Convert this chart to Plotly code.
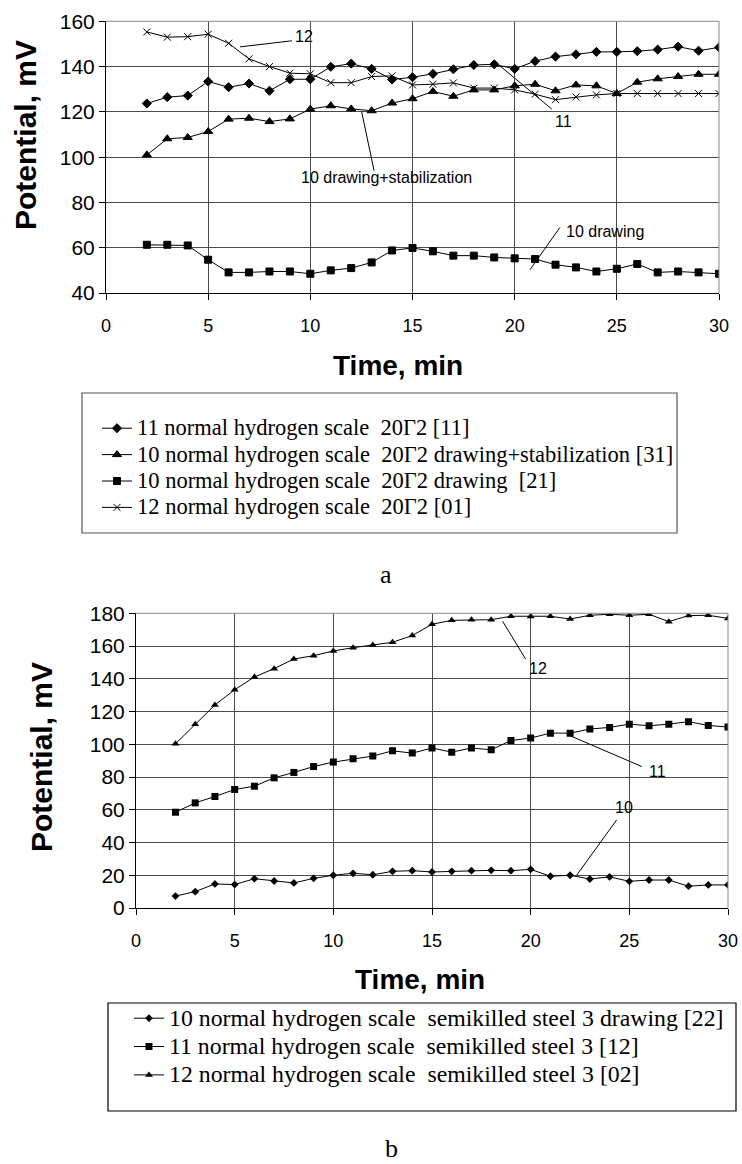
import plotly.graph_objects as go

W, H = 742, 1164

# ---------------- data ----------------
time_min = list(range(2, 31))

a_11_20g2 = [123.7, 126.5, 127.2, 133.4, 130.9, 132.5, 129.3, 134.4, 134.4, 139.9, 141.3, 139.0,
             134.3, 135.3, 136.8, 138.8, 140.7, 141.0, 139.0, 142.4, 144.4, 145.4, 146.5, 146.5,
             146.8, 147.5, 148.8, 147.0, 148.5]
a_10_draw_stab = [101.0, 108.1, 108.7, 111.3, 116.8, 117.2, 115.7, 116.9, 121.2, 122.7, 121.3, 120.5,
                  123.9, 125.8, 129.0, 126.9, 129.7, 129.7, 131.5, 132.2, 129.3, 131.9, 131.5, 128.1,
                  133.1, 134.6, 135.6, 136.6, 136.6]
a_10_draw = [61.3, 61.3, 61.0, 54.7, 49.1, 49.1, 49.5, 49.5, 48.5, 50.0, 51.0, 53.5,
             58.8, 59.9, 58.4, 56.5, 56.5, 55.7, 55.3, 55.0, 52.5, 51.3, 49.5, 50.7,
             52.8, 49.1, 49.5, 49.1, 48.5]
a_12_20g2 = [155.3, 153.0, 153.2, 154.3, 150.3, 143.4, 140.0, 137.1, 136.8, 132.9, 132.9, 135.6,
             135.9, 131.9, 132.2, 132.8, 130.5, 130.5, 129.7, 127.8, 125.4, 126.6, 127.5, 128.1,
             128.1, 128.1, 128.1, 128.1, 128.1]

b_10_st3_draw = [7.3, 10.0, 14.7, 14.3, 17.9, 16.5, 15.3, 18.1, 20.0, 21.2, 20.3,
                 22.4, 22.8, 22.0, 22.4, 22.8, 23.0, 22.8, 23.6, 19.4, 20.0, 17.7, 19.0,
                 16.3, 17.1, 17.1, 13.3, 14.1, 14.1]
b_11_st3 = [58.5, 64.2, 68.1, 72.4, 74.4, 79.5, 82.8, 86.4, 89.1, 91.1, 92.8,
            96.0, 94.6, 97.7, 95.2, 97.7, 96.6, 102.3, 103.8, 106.8, 106.8, 109.3, 110.3,
            112.3, 111.3, 112.3, 113.8, 111.5, 110.5]
b_12_st3 = [100.3, 112.3, 124.0, 133.3, 141.1, 146.2, 152.1, 154.1, 157.0, 159.0, 160.7,
            162.3, 166.4, 173.3, 175.7, 176.1, 176.1, 178.2, 178.0, 178.2, 176.5, 178.8, 179.4,
            178.8, 179.4, 174.9, 178.6, 178.8, 176.9]

names_a = ["11 normal hydrogen scale\u00a0 20\u03932 [11]",
           "10 normal hydrogen scale\u00a0 20\u03932 drawing+stabilization [31]",
           "10 normal hydrogen scale\u00a0 20\u03932 drawing\u00a0 [21]",
           "12 normal hydrogen scale\u00a0 20\u03932 [01]"]
names_b = ["10 normal hydrogen scale\u00a0 semikilled steel 3 drawing [22]",
           "11 normal hydrogen scale\u00a0 semikilled steel 3 [12]",
           "12 normal hydrogen scale\u00a0 semikilled steel 3 [02]"]

x_ticks = [0, 5, 10, 15, 20, 25, 30]
ya_ticks = [40, 60, 80, 100, 120, 140, 160]
yb_ticks = [0, 20, 40, 60, 80, 100, 120, 140, 160, 180]

# ---------------- helpers ----------------
def px(x):
    return x / W

def py(y):
    return 1 - y / H

SANS = "Liberation Sans, Arial, sans-serif"
SERIF = "Liberation Serif, Times New Roman, serif"

fig = go.Figure()

series_a = [(a_11_20g2, "diamond", 7), (a_10_draw_stab, "triangle-up", 8),
            (a_10_draw, "square", 7), (a_12_20g2, "x-thin", 7)]
for (vals, sym, sz), nm in zip(series_a, names_a):
    fig.add_trace(go.Scatter(
        x=time_min, y=vals, mode="lines+markers",
        name='<span style="font-size:22.5px">%s</span>' % nm,
        line=dict(color="black", width=1),
        marker=dict(symbol=sym, size=sz, color="black", line=dict(color="black", width=1)),
        xaxis="x", yaxis="y", legend="legend"))

series_b = [(b_10_st3_draw, "diamond", 6), (b_11_st3, "square", 7), (b_12_st3, "triangle-up", 7)]
for (vals, sym, sz), nm in zip(series_b, names_b):
    fig.add_trace(go.Scatter(
        x=time_min, y=vals, mode="lines+markers",
        name='<span style="font-size:23.8px">%s</span>' % nm,
        line=dict(color="black", width=1),
        marker=dict(symbol=sym, size=sz, color="black"),
        xaxis="x2", yaxis="y2", legend="legend2"))

axis_common = dict(showline=True, linecolor="black", linewidth=1, ticks="outside", ticklen=6,
                   tickcolor="black", showgrid=True, gridcolor="#4a4a4a", gridwidth=1,
                   zeroline=False, automargin=False)
xtick_font = dict(family=SANS, size=18, color="black")
ytick_font = dict(family=SANS, size=21, color="black")

fig.update_layout(
    width=W, height=H, margin=dict(l=0, r=0, t=0, b=0, autoexpand=False),
    paper_bgcolor="white", plot_bgcolor="white", showlegend=True,
    xaxis=dict(domain=[px(106), px(719)], range=[0, 30], tickvals=x_ticks, anchor="y",
               ticklabelstandoff=10, tickfont=xtick_font, **axis_common),
    yaxis=dict(domain=[py(293), py(21.3)], range=[40, 160], tickvals=ya_ticks, anchor="x",
               tickfont=ytick_font, **axis_common),
    xaxis2=dict(domain=[px(136), px(728)], range=[0, 30], tickvals=x_ticks, anchor="y2",
                ticklabelstandoff=10, tickfont=xtick_font, **axis_common),
    yaxis2=dict(domain=[py(908), py(613.3)], range=[0, 180], tickvals=yb_ticks, anchor="x2",
                tickfont=ytick_font, **axis_common),
    legend=dict(x=px(97), y=py(410), xanchor="left", yanchor="top", bgcolor="rgba(0,0,0,0)",
                borderwidth=0, font=dict(family=SERIF, size=18, color="black"),
                tracegroupgap=0),
    legend2=dict(x=px(129), y=py(999), xanchor="left", yanchor="top", bgcolor="rgba(0,0,0,0)",
                 borderwidth=0, font=dict(family=SERIF, size=19.5, color="black"),
                 tracegroupgap=0),
)

shapes = []
# gray top/right plot borders
for xr, yr in (("x domain", "y domain"), ("x2 domain", "y2 domain")):
    shapes.append(dict(type="line", xref=xr, yref=yr, x0=0, x1=1, y0=1, y1=1,
                       line=dict(color="#888888", width=1)))
    shapes.append(dict(type="line", xref=xr, yref=yr, x0=1, x1=1, y0=0, y1=1,
                       line=dict(color="#888888", width=1)))
# legend boxes
shapes.append(dict(type="rect", xref="paper", yref="paper", x0=px(82), x1=px(677),
                   y0=py(533), y1=py(393), line=dict(color="#555555", width=1.2)))
shapes.append(dict(type="rect", xref="paper", yref="paper", x0=px(108), x1=px(736),
                   y0=py(1111), y1=py(1003), line=dict(color="black", width=1.2)))
# leader lines (chart a)
lead_a = [((6.56, 148.7), (9.1, 151.4)),
          ((19.12, 141.5), (21.82, 121.2)),
          ((12.51, 120.1), (13.12, 94.0)),
          ((22.22, 69.0), (20.75, 50.3))]
for (x0, y0), (x1, y1) in lead_a:
    shapes.append(dict(type="line", xref="x", yref="y", x0=x0, y0=y0, x1=x1, y1=y1,
                       line=dict(color="black", width=1)))
lead_b = [((18.58, 175.1), (19.74, 152.1)),
          ((22.0, 105.2), (25.63, 86.4)),
          ((24.36, 53.8), (22.34, 20.2))]
for (x0, y0), (x1, y1) in lead_b:
    shapes.append(dict(type="line", xref="x2", yref="y2", x0=x0, y0=y0, x1=x1, y1=y1,
                       line=dict(color="black", width=1)))
fig.update_layout(shapes=shapes)

ann = []
lab_font = dict(family=SANS, size=16, color="black")
for txt, x, y, xa in (("12", 9.7, 153.1, "center"), ("11", 22.38, 115.7, "center"),
                      ("10 drawing+stabilization", 13.74, 90.9, "center"),
                      ("10 drawing", 22.42, 67.2, "left")):
    ann.append(dict(text=txt, x=x, y=y, xref="x", yref="y", showarrow=False,
                    xanchor=xa, yanchor="middle", font=lab_font))
for txt, x, y in (("12", 20.39, 146.0), ("11", 26.44, 83.4), ("10", 24.75, 61.4)):
    ann.append(dict(text=txt, x=x, y=y, xref="x2", yref="y2", showarrow=False,
                    xanchor="center", yanchor="middle", font=lab_font))
title_font = dict(family=SANS, size=30, color="black")
ann.append(dict(text="<b>Potential, mV</b>", x=px(25), y=py(135), xref="paper", yref="paper",
                showarrow=False, textangle=-90, xanchor="center", yanchor="middle",
                font=title_font))
ann.append(dict(text="<b>Potential, mV</b>", x=px(41), y=py(757), xref="paper", yref="paper",
                showarrow=False, textangle=-90, xanchor="center", yanchor="middle",
                font=title_font))
xt_font = dict(family=SANS, size=28, color="black")
ann.append(dict(text="<b>Time, min</b>", x=px(398), y=py(365), xref="paper", yref="paper",
                showarrow=False, xanchor="center", yanchor="middle", font=xt_font))
ann.append(dict(text="<b>Time, min</b>", x=px(420), y=py(979), xref="paper", yref="paper",
                showarrow=False, xanchor="center", yanchor="middle", font=xt_font))
cap_font = dict(family=SERIF, size=26, color="black")
ann.append(dict(text="a", x=px(386), y=py(574), xref="paper", yref="paper", showarrow=False,
                xanchor="center", yanchor="middle", font=cap_font))
ann.append(dict(text="b", x=px(391), y=py(1148), xref="paper", yref="paper", showarrow=False,
                xanchor="center", yanchor="middle", font=cap_font))
fig.update_layout(annotations=ann)

fig.write_html("out.html", config={"displayModeBar": False},
               post_script="document.body.style.margin='0';document.body.style.overflow='hidden';")
